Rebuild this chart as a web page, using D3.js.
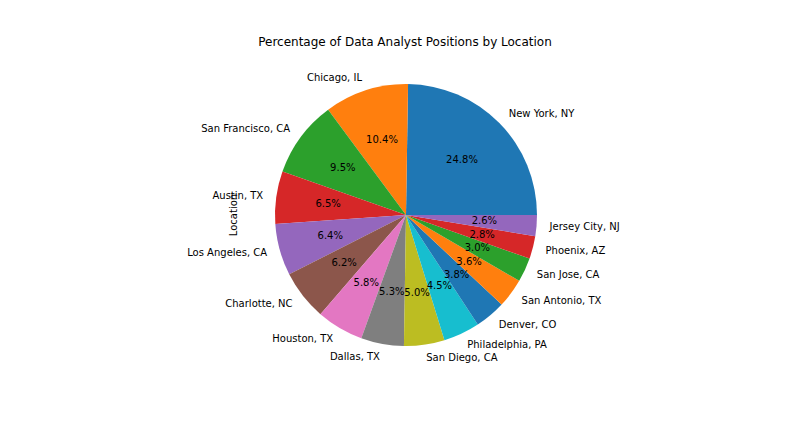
<!DOCTYPE html>
<html>
<head>
<meta charset="utf-8">
<script src="https://cdn.jsdelivr.net/npm/d3@7"></script>
<style>
  body { margin: 0; background: #fff; }
  text { font-family: "DejaVu Sans", sans-serif; }
</style>
</head>
<body>
<div id="chart-area"></div>
<script>
// Share of data analyst postings per city (in %)
var locations = ["New York, NY", "Chicago, IL", "San Francisco, CA", "Austin, TX",
    "Los Angeles, CA", "Charlotte, NC", "Houston, TX", "Dallas, TX", "San Diego, CA",
    "Philadelphia, PA", "Denver, CO", "San Antonio, TX", "San Jose, CA",
    "Phoenix, AZ", "Jersey City, NJ"];
var shares = [24.8, 10.4, 9.5, 6.5, 6.4, 6.2, 5.8, 5.3, 5.0, 4.5, 3.8, 3.6, 3.0, 2.8, 2.6];
var palette = ["#1f77b4", "#ff7f0e", "#2ca02c", "#d62728", "#9467bd",
    "#8c564b", "#e377c2", "#7f7f7f", "#bcbd22", "#17becf"];

var width = 792, height = 432;
var cx = 406, cy = 215, radius = 131;

var data = locations.map(function(d, i){ return { name: d, value: shares[i] }; });

var svg = d3.select("#chart-area")
    .append("svg")
        .attr("width", width)
        .attr("height", height);

// Title
svg.append("text")
    .attr("x", 405)
    .attr("y", 42)
    .attr("font-size", "12px")
    .attr("text-anchor", "middle")
    .attr("dominant-baseline", "middle")
    .text("Percentage of Data Analyst Positions by Location");

// Y label
svg.append("text")
    .attr("transform", "translate(234," + cy + ") rotate(-90)")
    .attr("font-size", "10px")
    .attr("text-anchor", "middle")
    .attr("dominant-baseline", "middle")
    .text("Location");

// matplotlib style: start at 3 o'clock, go counterclockwise
// d3 angles are clockwise from 12 o'clock, so map with a = PI/2 - theta
var pie = d3.pie()
    .value(function(d){ return d.value; })
    .sort(null)
    .startAngle(Math.PI / 2)
    .endAngle(Math.PI / 2 - 2 * Math.PI);

var arcs = pie(data);

var arc = d3.arc()
    .innerRadius(0)
    .outerRadius(radius);

var g = svg.append("g")
    .attr("transform", "translate(" + cx + "," + cy + ")");

g.selectAll("path")
    .data(arcs)
    .enter()
    .append("path")
        .attr("d", arc)
        .attr("fill", function(d, i){ return palette[i % palette.length]; });

function midPoint(d, dist){
    var a = (d.startAngle + d.endAngle) / 2;
    return [dist * Math.sin(a), -dist * Math.cos(a)];
}

// city labels at 1.1 r
g.selectAll(".label")
    .data(arcs)
    .enter()
    .append("text")
        .attr("class", "label")
        .attr("x", function(d){ return midPoint(d, radius * 1.1)[0]; })
        .attr("y", function(d){ return midPoint(d, radius * 1.1)[1]; })
        .attr("font-size", "10px")
        .attr("dominant-baseline", "middle")
        .attr("text-anchor", function(d){
            return midPoint(d, 1)[0] > 0 ? "start" : "end";
        })
        .text(function(d){ return d.data.name; });

// percent labels at 0.6 r
g.selectAll(".pct")
    .data(arcs)
    .enter()
    .append("text")
        .attr("class", "pct")
        .attr("x", function(d){ return midPoint(d, radius * 0.6)[0]; })
        .attr("y", function(d){ return midPoint(d, radius * 0.6)[1]; })
        .attr("font-size", "10px")
        .attr("text-anchor", "middle")
        .attr("dominant-baseline", "middle")
        .text(function(d){ return d.data.value.toFixed(1) + "%"; });
</script>
</body>
</html>
